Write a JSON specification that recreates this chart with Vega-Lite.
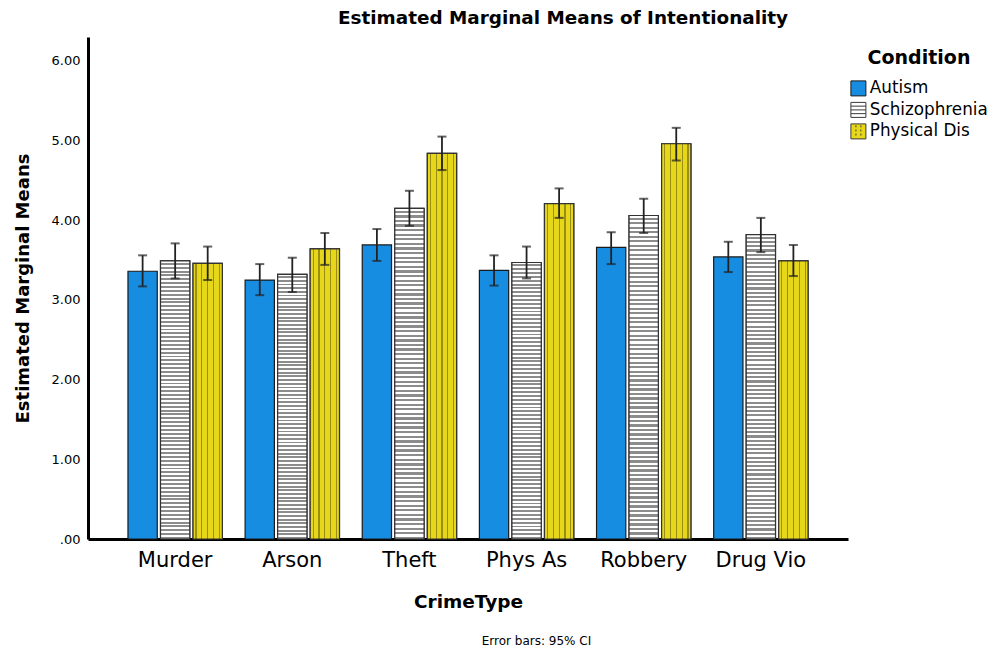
{
  "$schema": "https://vega.github.io/schema/vega-lite/v6.json",
  "width": 760,
  "height": 502,
  "padding": {"left": 14, "top": 8, "right": 2, "bottom": 4},
  "background": "white",
  "title": {"text": "Estimated Marginal Means of Intentionality", "font": "DejaVu Sans", "fontSize": 18.4, "fontWeight": "bold", "color": "#000", "anchor": "middle", "offset": 10, "dx": 95},
  "config": {"view": {"stroke": null}, "axis": {"grid": false}},
  "data": {"values": [
    {"CrimeType": "Murder", "Condition": "Autism", "Mean": 3.36, "Lower": 3.17, "Upper": 3.56},
    {"CrimeType": "Murder", "Condition": "Schizophrenia", "Mean": 3.49, "Lower": 3.27, "Upper": 3.71},
    {"CrimeType": "Murder", "Condition": "Physical Dis", "Mean": 3.46, "Lower": 3.25, "Upper": 3.67},
    {"CrimeType": "Arson", "Condition": "Autism", "Mean": 3.25, "Lower": 3.06, "Upper": 3.45},
    {"CrimeType": "Arson", "Condition": "Schizophrenia", "Mean": 3.32, "Lower": 3.10, "Upper": 3.53},
    {"CrimeType": "Arson", "Condition": "Physical Dis", "Mean": 3.64, "Lower": 3.44, "Upper": 3.84},
    {"CrimeType": "Theft", "Condition": "Autism", "Mean": 3.69, "Lower": 3.49, "Upper": 3.89},
    {"CrimeType": "Theft", "Condition": "Schizophrenia", "Mean": 4.15, "Lower": 3.93, "Upper": 4.37},
    {"CrimeType": "Theft", "Condition": "Physical Dis", "Mean": 4.84, "Lower": 4.63, "Upper": 5.05},
    {"CrimeType": "Phys As", "Condition": "Autism", "Mean": 3.37, "Lower": 3.18, "Upper": 3.56},
    {"CrimeType": "Phys As", "Condition": "Schizophrenia", "Mean": 3.47, "Lower": 3.27, "Upper": 3.67},
    {"CrimeType": "Phys As", "Condition": "Physical Dis", "Mean": 4.21, "Lower": 4.03, "Upper": 4.40},
    {"CrimeType": "Robbery", "Condition": "Autism", "Mean": 3.66, "Lower": 3.45, "Upper": 3.85},
    {"CrimeType": "Robbery", "Condition": "Schizophrenia", "Mean": 4.06, "Lower": 3.84, "Upper": 4.27},
    {"CrimeType": "Robbery", "Condition": "Physical Dis", "Mean": 4.96, "Lower": 4.75, "Upper": 5.16},
    {"CrimeType": "Drug Vio", "Condition": "Autism", "Mean": 3.54, "Lower": 3.35, "Upper": 3.73},
    {"CrimeType": "Drug Vio", "Condition": "Schizophrenia", "Mean": 3.82, "Lower": 3.60, "Upper": 4.03},
    {"CrimeType": "Drug Vio", "Condition": "Physical Dis", "Mean": 3.49, "Lower": 3.30, "Upper": 3.69}
  ]},
  "layer": [
    {
      "mark": {"type": "point", "filled": true, "size": 225, "strokeWidth": 1},
      "encoding": {
        "x": {"field": "CrimeType", "type": "nominal",
          "scale": {"domain": ["Murder", "Arson", "Theft", "Phys As", "Robbery", "Drug Vio"], "paddingInner": 0, "paddingOuter": 0.244},
          "axis": {"orient": "bottom", "title": "CrimeType", "titleFont": "DejaVu Sans", "titleFontSize": 18.5, "titleFontWeight": "bold", "titleColor": "#000", "titlePadding": 22,
            "labelFont": "DejaVu Sans", "labelFontSize": 21, "labelColor": "#000", "labelAngle": 0, "labelPadding": 10, "ticks": false, "domainColor": "#000", "domainWidth": 3}},
        "xOffset": {"field": "Condition", "type": "nominal", "scale": {"domain": ["Autism", "Schizophrenia", "Physical Dis"], "paddingInner": 0.1, "paddingOuter": 0.35}},
        "y": {"field": "Lower", "type": "quantitative", "scale": {"domain": [0, 6.3], "nice": false},
          "axis": {"title": "Estimated Marginal Means", "titleFont": "DejaVu Sans", "titleFontSize": 18, "titleFontWeight": "bold", "titleColor": "#000", "titlePadding": 19,
            "values": [0, 1, 2, 3, 4, 5, 6], "labelExpr": "datum.value === 0 ? '.00' : format(datum.value, '.2f')",
            "labelFont": "DejaVu Sans", "labelFontSize": 13, "labelColor": "#000", "labelPadding": 8, "ticks": false, "domainColor": "#000", "domainWidth": 3, "grid": false}},
        "fill": {"field": "Condition", "type": "nominal",
          "scale": {"domain": ["Autism", "Schizophrenia", "Physical Dis"], "range": ["#178de2", "#ffffff", "#e6d71a"]},
          "legend": {"title": "Condition", "orient": "none", "legendX": 762, "legendY": 12,
            "titleFont": "DejaVu Sans", "titleFontSize": 19, "titleFontWeight": "bold", "titleColor": "#000", "titleAnchor": "middle", "titlePadding": 12,
            "labelFont": "DejaVu Sans", "labelFontSize": 16.8, "labelColor": "#000", "labelOffset": 3,
            "symbolSize": 225, "symbolStrokeWidth": 1, "symbolOpacity": 1, "rowPadding": 1.5, "padding": 0}},
        "stroke": {"field": "Condition", "type": "nominal",
          "scale": {"domain": ["Autism", "Schizophrenia", "Physical Dis"], "range": ["#1a1a1a", "#3a3a3a", "#3a3a3a"]},
          "legend": {"title": "Condition", "orient": "none", "legendX": 762, "legendY": 12,
            "titleFont": "DejaVu Sans", "titleFontSize": 19, "titleFontWeight": "bold", "titleColor": "#000", "titleAnchor": "middle", "titlePadding": 12,
            "labelFont": "DejaVu Sans", "labelFontSize": 16.8, "labelColor": "#000", "labelOffset": 3,
            "symbolSize": 225, "symbolStrokeWidth": 1, "symbolOpacity": 1, "rowPadding": 1.5, "padding": 0}},
        "shape": {"field": "Condition", "type": "nominal",
          "scale": {"domain": ["Autism", "Schizophrenia", "Physical Dis"], "range": [
            "square",
            "M-1,-1H1V1H-1Z M-1,-0.5H1 M-1,0H1 M-1,0.5H1",
            "M-1,-1H1V1H-1Z M-0.33,-0.8V-0.55 M-0.33,-0.25V0 M-0.33,0.3V0.55 M0.33,-0.8V-0.55 M0.33,-0.25V0 M0.33,0.3V0.55"
          ]},
          "legend": {"title": "Condition", "orient": "none", "legendX": 762, "legendY": 12,
            "titleFont": "DejaVu Sans", "titleFontSize": 19, "titleFontWeight": "bold", "titleColor": "#000", "titleAnchor": "middle", "titlePadding": 12,
            "labelFont": "DejaVu Sans", "labelFontSize": 16.8, "labelColor": "#000", "labelOffset": 3,
            "symbolSize": 225, "symbolStrokeWidth": 1, "symbolOpacity": 1, "rowPadding": 1.5, "padding": 0}}
      }
    },
    {
      "mark": {"type": "bar", "fill": "#178de2", "stroke": "#1a1a1a", "strokeWidth": 1.2},
      "encoding": {
        "x": {"field": "CrimeType", "type": "nominal", "axis": null},
        "xOffset": {"field": "Condition", "type": "nominal"},
        "y": {"field": "Mean", "type": "quantitative"}
      }
    },
    {
      "transform": [{"filter": "datum.Condition === 'Schizophrenia'"}],
      "mark": {"type": "bar", "stroke": "#333", "strokeWidth": 1.2, "fill": {"gradient": "linear", "x1": 0, "y1": 0, "x2": 0, "y2": 1, "stops": [
        {"offset": 0, "color": "#fff"},
        {"offset": 0.0069, "color": "#fff"}, {"offset": 0.0069, "color": "#8c8c8c"}, {"offset": 0.0139, "color": "#8c8c8c"}, {"offset": 0.0139, "color": "#fff"},
        {"offset": 0.0208, "color": "#fff"}, {"offset": 0.0208, "color": "#8c8c8c"}, {"offset": 0.0278, "color": "#8c8c8c"}, {"offset": 0.0278, "color": "#fff"},
        {"offset": 0.0347, "color": "#fff"}, {"offset": 0.0347, "color": "#8c8c8c"}, {"offset": 0.0417, "color": "#8c8c8c"}, {"offset": 0.0417, "color": "#fff"},
        {"offset": 0.0486, "color": "#fff"}, {"offset": 0.0486, "color": "#8c8c8c"}, {"offset": 0.0556, "color": "#8c8c8c"}, {"offset": 0.0556, "color": "#fff"},
        {"offset": 0.0625, "color": "#fff"}, {"offset": 0.0625, "color": "#8c8c8c"}, {"offset": 0.0694, "color": "#8c8c8c"}, {"offset": 0.0694, "color": "#fff"},
        {"offset": 0.0764, "color": "#fff"}, {"offset": 0.0764, "color": "#8c8c8c"}, {"offset": 0.0833, "color": "#8c8c8c"}, {"offset": 0.0833, "color": "#fff"},
        {"offset": 0.0903, "color": "#fff"}, {"offset": 0.0903, "color": "#8c8c8c"}, {"offset": 0.0972, "color": "#8c8c8c"}, {"offset": 0.0972, "color": "#fff"},
        {"offset": 0.1042, "color": "#fff"}, {"offset": 0.1042, "color": "#8c8c8c"}, {"offset": 0.1111, "color": "#8c8c8c"}, {"offset": 0.1111, "color": "#fff"},
        {"offset": 0.1181, "color": "#fff"}, {"offset": 0.1181, "color": "#8c8c8c"}, {"offset": 0.125, "color": "#8c8c8c"}, {"offset": 0.125, "color": "#fff"},
        {"offset": 0.1319, "color": "#fff"}, {"offset": 0.1319, "color": "#8c8c8c"}, {"offset": 0.1389, "color": "#8c8c8c"}, {"offset": 0.1389, "color": "#fff"},
        {"offset": 0.1458, "color": "#fff"}, {"offset": 0.1458, "color": "#8c8c8c"}, {"offset": 0.1528, "color": "#8c8c8c"}, {"offset": 0.1528, "color": "#fff"},
        {"offset": 0.1597, "color": "#fff"}, {"offset": 0.1597, "color": "#8c8c8c"}, {"offset": 0.1667, "color": "#8c8c8c"}, {"offset": 0.1667, "color": "#fff"},
        {"offset": 0.1736, "color": "#fff"}, {"offset": 0.1736, "color": "#8c8c8c"}, {"offset": 0.1806, "color": "#8c8c8c"}, {"offset": 0.1806, "color": "#fff"},
        {"offset": 0.1875, "color": "#fff"}, {"offset": 0.1875, "color": "#8c8c8c"}, {"offset": 0.1944, "color": "#8c8c8c"}, {"offset": 0.1944, "color": "#fff"},
        {"offset": 0.2014, "color": "#fff"}, {"offset": 0.2014, "color": "#8c8c8c"}, {"offset": 0.2083, "color": "#8c8c8c"}, {"offset": 0.2083, "color": "#fff"},
        {"offset": 0.2153, "color": "#fff"}, {"offset": 0.2153, "color": "#8c8c8c"}, {"offset": 0.2222, "color": "#8c8c8c"}, {"offset": 0.2222, "color": "#fff"},
        {"offset": 0.2292, "color": "#fff"}, {"offset": 0.2292, "color": "#8c8c8c"}, {"offset": 0.2361, "color": "#8c8c8c"}, {"offset": 0.2361, "color": "#fff"},
        {"offset": 0.2431, "color": "#fff"}, {"offset": 0.2431, "color": "#8c8c8c"}, {"offset": 0.25, "color": "#8c8c8c"}, {"offset": 0.25, "color": "#fff"},
        {"offset": 0.2569, "color": "#fff"}, {"offset": 0.2569, "color": "#8c8c8c"}, {"offset": 0.2639, "color": "#8c8c8c"}, {"offset": 0.2639, "color": "#fff"},
        {"offset": 0.2708, "color": "#fff"}, {"offset": 0.2708, "color": "#8c8c8c"}, {"offset": 0.2778, "color": "#8c8c8c"}, {"offset": 0.2778, "color": "#fff"},
        {"offset": 0.2847, "color": "#fff"}, {"offset": 0.2847, "color": "#8c8c8c"}, {"offset": 0.2917, "color": "#8c8c8c"}, {"offset": 0.2917, "color": "#fff"},
        {"offset": 0.2986, "color": "#fff"}, {"offset": 0.2986, "color": "#8c8c8c"}, {"offset": 0.3056, "color": "#8c8c8c"}, {"offset": 0.3056, "color": "#fff"},
        {"offset": 0.3125, "color": "#fff"}, {"offset": 0.3125, "color": "#8c8c8c"}, {"offset": 0.3194, "color": "#8c8c8c"}, {"offset": 0.3194, "color": "#fff"},
        {"offset": 0.3264, "color": "#fff"}, {"offset": 0.3264, "color": "#8c8c8c"}, {"offset": 0.3333, "color": "#8c8c8c"}, {"offset": 0.3333, "color": "#fff"},
        {"offset": 0.3403, "color": "#fff"}, {"offset": 0.3403, "color": "#8c8c8c"}, {"offset": 0.3472, "color": "#8c8c8c"}, {"offset": 0.3472, "color": "#fff"},
        {"offset": 0.3542, "color": "#fff"}, {"offset": 0.3542, "color": "#8c8c8c"}, {"offset": 0.3611, "color": "#8c8c8c"}, {"offset": 0.3611, "color": "#fff"},
        {"offset": 0.3681, "color": "#fff"}, {"offset": 0.3681, "color": "#8c8c8c"}, {"offset": 0.375, "color": "#8c8c8c"}, {"offset": 0.375, "color": "#fff"},
        {"offset": 0.3819, "color": "#fff"}, {"offset": 0.3819, "color": "#8c8c8c"}, {"offset": 0.3889, "color": "#8c8c8c"}, {"offset": 0.3889, "color": "#fff"},
        {"offset": 0.3958, "color": "#fff"}, {"offset": 0.3958, "color": "#8c8c8c"}, {"offset": 0.4028, "color": "#8c8c8c"}, {"offset": 0.4028, "color": "#fff"},
        {"offset": 0.4097, "color": "#fff"}, {"offset": 0.4097, "color": "#8c8c8c"}, {"offset": 0.4167, "color": "#8c8c8c"}, {"offset": 0.4167, "color": "#fff"},
        {"offset": 0.4236, "color": "#fff"}, {"offset": 0.4236, "color": "#8c8c8c"}, {"offset": 0.4306, "color": "#8c8c8c"}, {"offset": 0.4306, "color": "#fff"},
        {"offset": 0.4375, "color": "#fff"}, {"offset": 0.4375, "color": "#8c8c8c"}, {"offset": 0.4444, "color": "#8c8c8c"}, {"offset": 0.4444, "color": "#fff"},
        {"offset": 0.4514, "color": "#fff"}, {"offset": 0.4514, "color": "#8c8c8c"}, {"offset": 0.4583, "color": "#8c8c8c"}, {"offset": 0.4583, "color": "#fff"},
        {"offset": 0.4653, "color": "#fff"}, {"offset": 0.4653, "color": "#8c8c8c"}, {"offset": 0.4722, "color": "#8c8c8c"}, {"offset": 0.4722, "color": "#fff"},
        {"offset": 0.4792, "color": "#fff"}, {"offset": 0.4792, "color": "#8c8c8c"}, {"offset": 0.4861, "color": "#8c8c8c"}, {"offset": 0.4861, "color": "#fff"},
        {"offset": 0.4931, "color": "#fff"}, {"offset": 0.4931, "color": "#8c8c8c"}, {"offset": 0.5, "color": "#8c8c8c"}, {"offset": 0.5, "color": "#fff"},
        {"offset": 0.5069, "color": "#fff"}, {"offset": 0.5069, "color": "#8c8c8c"}, {"offset": 0.5139, "color": "#8c8c8c"}, {"offset": 0.5139, "color": "#fff"},
        {"offset": 0.5208, "color": "#fff"}, {"offset": 0.5208, "color": "#8c8c8c"}, {"offset": 0.5278, "color": "#8c8c8c"}, {"offset": 0.5278, "color": "#fff"},
        {"offset": 0.5347, "color": "#fff"}, {"offset": 0.5347, "color": "#8c8c8c"}, {"offset": 0.5417, "color": "#8c8c8c"}, {"offset": 0.5417, "color": "#fff"},
        {"offset": 0.5486, "color": "#fff"}, {"offset": 0.5486, "color": "#8c8c8c"}, {"offset": 0.5556, "color": "#8c8c8c"}, {"offset": 0.5556, "color": "#fff"},
        {"offset": 0.5625, "color": "#fff"}, {"offset": 0.5625, "color": "#8c8c8c"}, {"offset": 0.5694, "color": "#8c8c8c"}, {"offset": 0.5694, "color": "#fff"},
        {"offset": 0.5764, "color": "#fff"}, {"offset": 0.5764, "color": "#8c8c8c"}, {"offset": 0.5833, "color": "#8c8c8c"}, {"offset": 0.5833, "color": "#fff"},
        {"offset": 0.5903, "color": "#fff"}, {"offset": 0.5903, "color": "#8c8c8c"}, {"offset": 0.5972, "color": "#8c8c8c"}, {"offset": 0.5972, "color": "#fff"},
        {"offset": 0.6042, "color": "#fff"}, {"offset": 0.6042, "color": "#8c8c8c"}, {"offset": 0.6111, "color": "#8c8c8c"}, {"offset": 0.6111, "color": "#fff"},
        {"offset": 0.6181, "color": "#fff"}, {"offset": 0.6181, "color": "#8c8c8c"}, {"offset": 0.625, "color": "#8c8c8c"}, {"offset": 0.625, "color": "#fff"},
        {"offset": 0.6319, "color": "#fff"}, {"offset": 0.6319, "color": "#8c8c8c"}, {"offset": 0.6389, "color": "#8c8c8c"}, {"offset": 0.6389, "color": "#fff"},
        {"offset": 0.6458, "color": "#fff"}, {"offset": 0.6458, "color": "#8c8c8c"}, {"offset": 0.6528, "color": "#8c8c8c"}, {"offset": 0.6528, "color": "#fff"},
        {"offset": 0.6597, "color": "#fff"}, {"offset": 0.6597, "color": "#8c8c8c"}, {"offset": 0.6667, "color": "#8c8c8c"}, {"offset": 0.6667, "color": "#fff"},
        {"offset": 0.6736, "color": "#fff"}, {"offset": 0.6736, "color": "#8c8c8c"}, {"offset": 0.6806, "color": "#8c8c8c"}, {"offset": 0.6806, "color": "#fff"},
        {"offset": 0.6875, "color": "#fff"}, {"offset": 0.6875, "color": "#8c8c8c"}, {"offset": 0.6944, "color": "#8c8c8c"}, {"offset": 0.6944, "color": "#fff"},
        {"offset": 0.7014, "color": "#fff"}, {"offset": 0.7014, "color": "#8c8c8c"}, {"offset": 0.7083, "color": "#8c8c8c"}, {"offset": 0.7083, "color": "#fff"},
        {"offset": 0.7153, "color": "#fff"}, {"offset": 0.7153, "color": "#8c8c8c"}, {"offset": 0.7222, "color": "#8c8c8c"}, {"offset": 0.7222, "color": "#fff"},
        {"offset": 0.7292, "color": "#fff"}, {"offset": 0.7292, "color": "#8c8c8c"}, {"offset": 0.7361, "color": "#8c8c8c"}, {"offset": 0.7361, "color": "#fff"},
        {"offset": 0.7431, "color": "#fff"}, {"offset": 0.7431, "color": "#8c8c8c"}, {"offset": 0.75, "color": "#8c8c8c"}, {"offset": 0.75, "color": "#fff"},
        {"offset": 0.7569, "color": "#fff"}, {"offset": 0.7569, "color": "#8c8c8c"}, {"offset": 0.7639, "color": "#8c8c8c"}, {"offset": 0.7639, "color": "#fff"},
        {"offset": 0.7708, "color": "#fff"}, {"offset": 0.7708, "color": "#8c8c8c"}, {"offset": 0.7778, "color": "#8c8c8c"}, {"offset": 0.7778, "color": "#fff"},
        {"offset": 0.7847, "color": "#fff"}, {"offset": 0.7847, "color": "#8c8c8c"}, {"offset": 0.7917, "color": "#8c8c8c"}, {"offset": 0.7917, "color": "#fff"},
        {"offset": 0.7986, "color": "#fff"}, {"offset": 0.7986, "color": "#8c8c8c"}, {"offset": 0.8056, "color": "#8c8c8c"}, {"offset": 0.8056, "color": "#fff"},
        {"offset": 0.8125, "color": "#fff"}, {"offset": 0.8125, "color": "#8c8c8c"}, {"offset": 0.8194, "color": "#8c8c8c"}, {"offset": 0.8194, "color": "#fff"},
        {"offset": 0.8264, "color": "#fff"}, {"offset": 0.8264, "color": "#8c8c8c"}, {"offset": 0.8333, "color": "#8c8c8c"}, {"offset": 0.8333, "color": "#fff"},
        {"offset": 0.8403, "color": "#fff"}, {"offset": 0.8403, "color": "#8c8c8c"}, {"offset": 0.8472, "color": "#8c8c8c"}, {"offset": 0.8472, "color": "#fff"},
        {"offset": 0.8542, "color": "#fff"}, {"offset": 0.8542, "color": "#8c8c8c"}, {"offset": 0.8611, "color": "#8c8c8c"}, {"offset": 0.8611, "color": "#fff"},
        {"offset": 0.8681, "color": "#fff"}, {"offset": 0.8681, "color": "#8c8c8c"}, {"offset": 0.875, "color": "#8c8c8c"}, {"offset": 0.875, "color": "#fff"},
        {"offset": 0.8819, "color": "#fff"}, {"offset": 0.8819, "color": "#8c8c8c"}, {"offset": 0.8889, "color": "#8c8c8c"}, {"offset": 0.8889, "color": "#fff"},
        {"offset": 0.8958, "color": "#fff"}, {"offset": 0.8958, "color": "#8c8c8c"}, {"offset": 0.9028, "color": "#8c8c8c"}, {"offset": 0.9028, "color": "#fff"},
        {"offset": 0.9097, "color": "#fff"}, {"offset": 0.9097, "color": "#8c8c8c"}, {"offset": 0.9167, "color": "#8c8c8c"}, {"offset": 0.9167, "color": "#fff"},
        {"offset": 0.9236, "color": "#fff"}, {"offset": 0.9236, "color": "#8c8c8c"}, {"offset": 0.9306, "color": "#8c8c8c"}, {"offset": 0.9306, "color": "#fff"},
        {"offset": 0.9375, "color": "#fff"}, {"offset": 0.9375, "color": "#8c8c8c"}, {"offset": 0.9444, "color": "#8c8c8c"}, {"offset": 0.9444, "color": "#fff"},
        {"offset": 0.9514, "color": "#fff"}, {"offset": 0.9514, "color": "#8c8c8c"}, {"offset": 0.9583, "color": "#8c8c8c"}, {"offset": 0.9583, "color": "#fff"},
        {"offset": 0.9653, "color": "#fff"}, {"offset": 0.9653, "color": "#8c8c8c"}, {"offset": 0.9722, "color": "#8c8c8c"}, {"offset": 0.9722, "color": "#fff"},
        {"offset": 0.9792, "color": "#fff"}, {"offset": 0.9792, "color": "#8c8c8c"}, {"offset": 0.9861, "color": "#8c8c8c"}, {"offset": 0.9861, "color": "#fff"},
        {"offset": 0.9931, "color": "#fff"}, {"offset": 0.9931, "color": "#8c8c8c"}, {"offset": 1, "color": "#8c8c8c"}
      ]}},
      "encoding": {
        "x": {"field": "CrimeType", "type": "nominal", "axis": null},
        "xOffset": {"field": "Condition", "type": "nominal"},
        "y": {"field": "Mean", "type": "quantitative"}
      }
    },
    {
      "transform": [{"filter": "datum.Condition === 'Physical Dis'"}],
      "mark": {"type": "bar", "stroke": "#333", "strokeWidth": 1.2, "fill": {"gradient": "linear", "x1": 0, "y1": 0, "x2": 1, "y2": 0, "stops": [
        {"offset": 0, "color": "#e6d71a"},
        {"offset": 0.08, "color": "#e6d71a"}, {"offset": 0.08, "color": "#9a8f14"}, {"offset": 0.12, "color": "#9a8f14"}, {"offset": 0.12, "color": "#e6d71a"},
        {"offset": 0.28, "color": "#e6d71a"}, {"offset": 0.28, "color": "#9a8f14"}, {"offset": 0.32, "color": "#9a8f14"}, {"offset": 0.32, "color": "#e6d71a"},
        {"offset": 0.48, "color": "#e6d71a"}, {"offset": 0.48, "color": "#9a8f14"}, {"offset": 0.52, "color": "#9a8f14"}, {"offset": 0.52, "color": "#e6d71a"},
        {"offset": 0.68, "color": "#e6d71a"}, {"offset": 0.68, "color": "#9a8f14"}, {"offset": 0.72, "color": "#9a8f14"}, {"offset": 0.72, "color": "#e6d71a"},
        {"offset": 0.88, "color": "#e6d71a"}, {"offset": 0.88, "color": "#9a8f14"}, {"offset": 0.92, "color": "#9a8f14"}, {"offset": 0.92, "color": "#e6d71a"},
        {"offset": 1, "color": "#e6d71a"}
      ]}},
      "encoding": {
        "x": {"field": "CrimeType", "type": "nominal", "axis": null},
        "xOffset": {"field": "Condition", "type": "nominal"},
        "y": {"field": "Mean", "type": "quantitative"}
      }
    },
    {
      "mark": {"type": "rule", "color": "#222", "strokeWidth": 1.8},
      "encoding": {
        "x": {"field": "CrimeType", "type": "nominal",
          "axis": {"orient": "bottom", "title": "Error bars: 95% CI", "labels": false, "ticks": false, "domain": false, "grid": false,
            "titleFont": "DejaVu Sans", "titleFontSize": 12, "titleFontWeight": "normal", "titleColor": "#000",
            "titleX": 448, "titleY": 101, "titleAlign": "center", "titleBaseline": "middle"}},
        "xOffset": {"field": "Condition", "type": "nominal"},
        "y": {"field": "Lower", "type": "quantitative"},
        "y2": {"field": "Upper"}
      }
    },
    {
      "mark": {"type": "tick", "color": "#222", "thickness": 2, "size": 9},
      "encoding": {
        "x": {"field": "CrimeType", "type": "nominal", "axis": null},
        "xOffset": {"field": "Condition", "type": "nominal"},
        "y": {"field": "Lower", "type": "quantitative"}
      }
    },
    {
      "mark": {"type": "tick", "color": "#222", "thickness": 2, "size": 9},
      "encoding": {
        "x": {"field": "CrimeType", "type": "nominal", "axis": null},
        "xOffset": {"field": "Condition", "type": "nominal"},
        "y": {"field": "Upper", "type": "quantitative"}
      }
    }
  ],
  "resolve": {"axis": {"x": "independent"}}
}
